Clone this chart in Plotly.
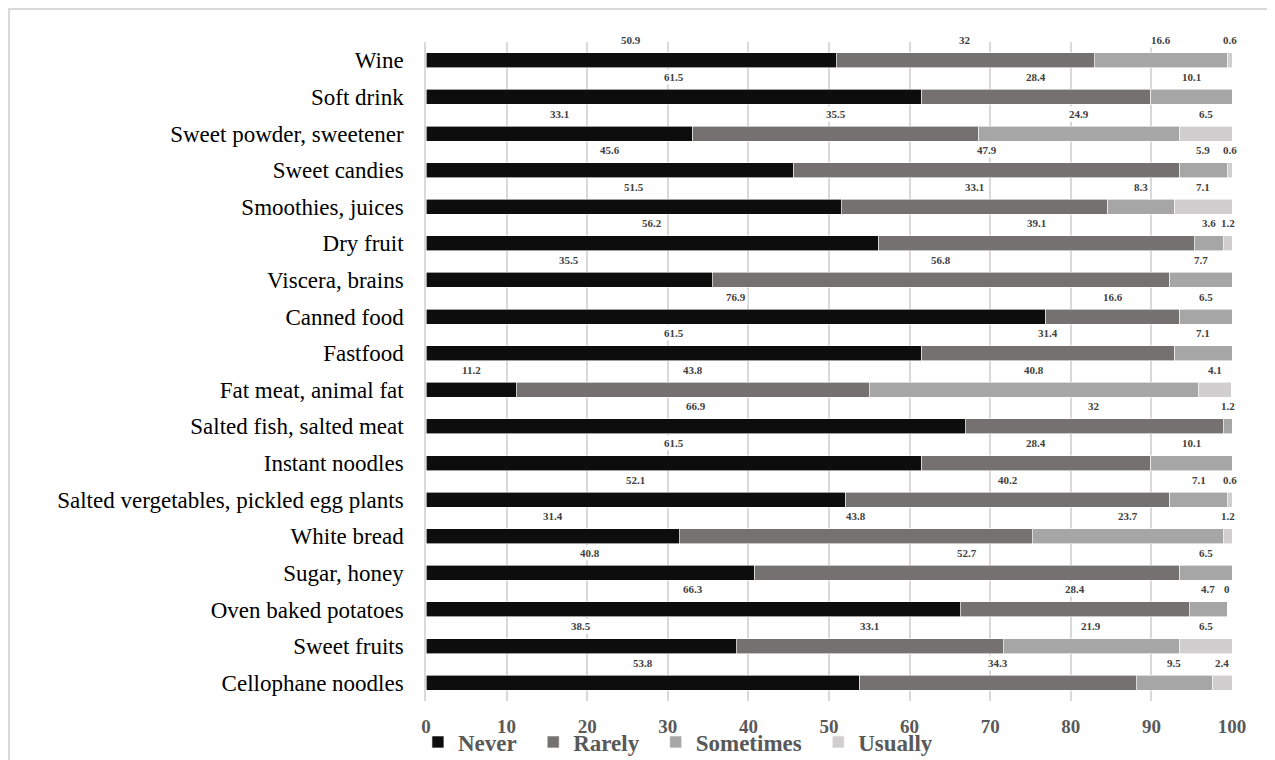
import plotly.graph_objects as go

categories = [
    "Wine", "Soft drink", "Sweet powder, sweetener", "Sweet candies",
    "Smoothies, juices", "Dry fruit", "Viscera, brains", "Canned food",
    "Fastfood", "Fat meat, animal fat", "Salted fish, salted meat",
    "Instant noodles", "Salted vergetables, pickled egg plants",
    "White bread", "Sugar, honey", "Oven baked potatoes", "Sweet fruits",
    "Cellophane noodles",
]
never = [50.9, 61.5, 33.1, 45.6, 51.5, 56.2, 35.5, 76.9, 61.5, 11.2, 66.9, 61.5, 52.1, 31.4, 40.8, 66.3, 38.5, 53.8]
rarely = [32, 28.4, 35.5, 47.9, 33.1, 39.1, 56.8, 16.6, 31.4, 43.8, 32, 28.4, 40.2, 43.8, 52.7, 28.4, 33.1, 34.3]
sometimes = [16.6, 10.1, 24.9, 5.9, 8.3, 3.6, 7.7, 6.5, 7.1, 40.8, 1.2, 10.1, 7.1, 23.7, 6.5, 4.7, 21.9, 9.5]
usually = [0.6, None, 6.5, 0.6, 7.1, 1.2, None, None, None, 4.1, None, None, 0.6, 1.2, None, 0, 6.5, 2.4]

series_names = ["Never", "Rarely", "Sometimes", "Usually"]
series_values = [never, rarely, sometimes, usually]
series_colors = ["#0d0d0d", "#767171", "#a6a6a6", "#d0cece"]
x_ticks = [0, 10, 20, 30, 40, 50, 60, 70, 80, 90, 100]

FONT = "Liberation Serif"

# page offsets by ~8px body margin
OFF = 8
W, H = 1275 - OFF, 760 - OFF
L, T = 426 - OFF, 42 - OFF
PW, PH = 806, 659
R = W - L - PW
B = H - T - PH

fig = go.Figure()
for name, vals, col in zip(series_names, series_values, series_colors):
    fig.add_trace(go.Bar(
        y=categories, x=[v if v is not None else 0 for v in vals],
        name=f"<b>{name}</b>&nbsp;&nbsp;", orientation="h",
        marker=dict(color=col, line=dict(color="white", width=0.6)),
        width=0.41, hoverinfo="x+y",
    ))

annotations = []
cum = [0.0] * len(categories)
for vals in series_values:
    for i, v in enumerate(vals):
        if v is None:
            continue
        center = cum[i] + v / 2
        annotations.append(dict(
            x=center, y=categories[i], xref="x", yref="y",
            text=f"<b>{v:g}</b>", showarrow=False, yshift=20,
            font=dict(family=FONT, size=11, color="#404040"),
            bgcolor="white", borderpad=1,
        ))
        cum[i] += v

fig.update_layout(
    width=W, height=H,
    margin=dict(l=L, r=R, t=T, b=B, autoexpand=False),
    paper_bgcolor="white", plot_bgcolor="white",
    barmode="stack",
    annotations=annotations,
    showlegend=True,
    font=dict(family=FONT),
    legend=dict(
        orientation="h", x=-0.01, xanchor="left",
        yref="container", y=1 - (742 - OFF) / H, yanchor="middle",
        traceorder="normal", font=dict(family=FONT, size=23, color="#595959"),
        itemwidth=30, bgcolor="rgba(0,0,0,0)",
    ),
    xaxis=dict(
        range=[0, 100], tickvals=x_ticks, ticktext=[f"<b>{t}</b>" for t in x_ticks],
        showgrid=True, gridcolor="#d9d9d9", gridwidth=1.5, zeroline=False,
        showline=False, tickfont=dict(family=FONT, size=19, color="#595959"),
        ticklabelstandoff=12, fixedrange=True, automargin=False,
    ),
    yaxis=dict(
        categoryorder="array", categoryarray=categories,
        range=[len(categories) - 0.5, -0.5],
        showgrid=False, showline=True, linecolor="#d9d9d9", linewidth=1.5,
        tickfont=dict(family=FONT, size=23, color="#000000"),
        ticklabelstandoff=16, fixedrange=True, automargin=False,
    ),
    shapes=[dict(
        type="rect", xref="paper", yref="paper",
        x0=(1 - L) / PW, x1=(W + 20 - L) / PW,
        y0=(T + PH - (H + 20)) / PH, y1=(T + PH - 1) / PH,
        line=dict(color="#d9d9d9", width=2), fillcolor="rgba(0,0,0,0)", layer="below",
    )],
)

fig.write_html("out.html")
